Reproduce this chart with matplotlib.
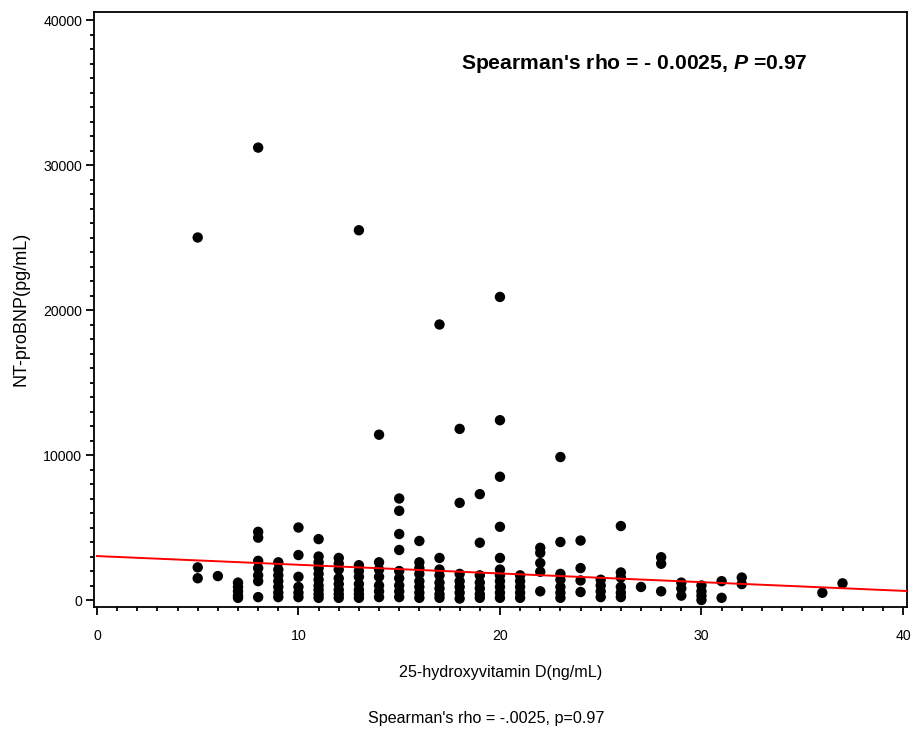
"""
Scatter of NT-proBNP against 25-hydroxyvitamin D with regression line.
"""

import matplotlib
matplotlib.use("Agg")
import matplotlib.pyplot as plt
from matplotlib.ticker import MultipleLocator

plt.rcParams["font.family"] = ["Liberation Sans", "DejaVu Sans"]
plt.rcParams["mathtext.fontset"] = "custom"
plt.rcParams["mathtext.it"] = "Liberation Sans:bold:italic"
plt.rcParams["mathtext.rm"] = "Liberation Sans:bold"

# ── Data ─────────────────────────────────────────────────────────────────────

vit_d = (
    [5] * 3 + [6] * 1 + [7] * 5 + [8] * 8 + [9] * 7 + [10] * 6 + [11] * 10
    + [12] * 8 + [13] * 8 + [14] * 7 + [15] * 9 + [16] * 8 + [17] * 8
    + [18] * 7 + [19] * 7 + [20] * 11 + [21] * 5 + [22] * 5 + [23] * 7
    + [24] * 4 + [25] * 4 + [26] * 6 + [27] * 1 + [28] * 3 + [29] * 3
    + [30] * 4 + [31] * 2 + [32] * 2 + [36] * 1 + [37] * 1
)

nt_probnp = [
    25000, 2250, 1500,                                      # 5
    1650,                                                   # 6
    1200, 900, 600, 300, 150,                               # 7
    31200, 4700, 4300, 2700, 2200, 1700, 1300, 200,         # 8
    2600, 2100, 1700, 1300, 900, 500, 200,                  # 9
    5000, 3100, 1600, 900, 500, 200,                        # 10
    4200, 3000, 2600, 2200, 1800, 1400, 1000, 700, 400, 150,  # 11
    2900, 2500, 2100, 1500, 1100, 700, 400, 150,            # 12
    25500, 2400, 2000, 1600, 1100, 700, 400, 150,           # 13
    11400, 2600, 2100, 1600, 1000, 600, 200,                # 14
    7000, 6150, 4550, 3450, 2000, 1500, 1000, 600, 200,     # 15
    4070, 2600, 2200, 1800, 1300, 900, 500, 150,            # 16
    19000, 2900, 2100, 1700, 1200, 800, 400, 150,           # 17
    11800, 6700, 1800, 1300, 900, 500, 100,                 # 18
    7300, 3950, 1700, 1200, 800, 400, 150,                  # 19
    20900, 12400, 8500, 5050, 2900, 2100, 1700, 1300, 900, 500, 150,  # 20
    1700, 1300, 900, 500, 150,                              # 21
    3600, 3250, 2550, 1950, 600,                            # 22
    9860, 4000, 1800, 1400, 900, 500, 150,                  # 23
    4100, 2200, 1350, 550,                                  # 24
    1400, 1000, 600, 200,                                   # 25
    5100, 1900, 1550, 900, 500, 200,                        # 26
    900,                                                    # 27
    2950, 2500, 600,                                        # 28
    1200, 800, 300,                                         # 29
    1000, 600, 300, 0,                                      # 30
    1300, 150,                                              # 31
    1550, 1100,                                             # 32
    500,                                                    # 36
    1150,                                                   # 37
]

fit_x = [0, 40.2]
fit_y = [3030, 620]

# ── Plot ─────────────────────────────────────────────────────────────────────

fig = plt.figure(figsize=(9.12, 7.29), dpi=100)
ax = fig.add_axes([0.103, 0.167, 0.8915, 0.8165])

ax.scatter(vit_d, nt_probnp, s=56, color="black", edgecolors="none", zorder=3)
ax.plot(fit_x, fit_y, color="#ff0000", lw=1.4, zorder=4)

ax.set_xlim(-0.15, 40.2)
ax.set_ylim(-500, 40550)
ax.xaxis.set_major_locator(MultipleLocator(10))
ax.xaxis.set_minor_locator(MultipleLocator(1))
ax.yaxis.set_major_locator(MultipleLocator(10000))
ax.yaxis.set_minor_locator(MultipleLocator(1000))

for sp in ax.spines.values():
    sp.set_linewidth(1.3)
ax.tick_params(which="major", length=5.5, width=1.3, labelsize=10.2)
ax.tick_params(which="minor", length=3, width=1.3)
ax.tick_params(axis="x", which="major", pad=10)
ax.tick_params(axis="y", which="major", pad=3)

ax.set_xlabel("25-hydroxyvitamin D(ng/mL)", fontsize=11.6, va="center")
ax.xaxis.set_label_coords(0.5006, -0.109)
ax.set_ylabel("NT-proBNP(pg/mL)", fontsize=13, va="center")
ax.yaxis.set_label_coords(-0.0898, 0.501)

ax.text(0.664, 0.914, "Spearman's rho = - 0.0025, $P$ =0.97",
        transform=ax.transAxes, ha="center", va="center",
        fontsize=15.2, fontweight="bold")

fig.text(0.533, 0.015, "Spearman's rho = -.0025, p=0.97",
         ha="center", va="center", fontsize=11.6)

fig.savefig("out.png", dpi=100)
